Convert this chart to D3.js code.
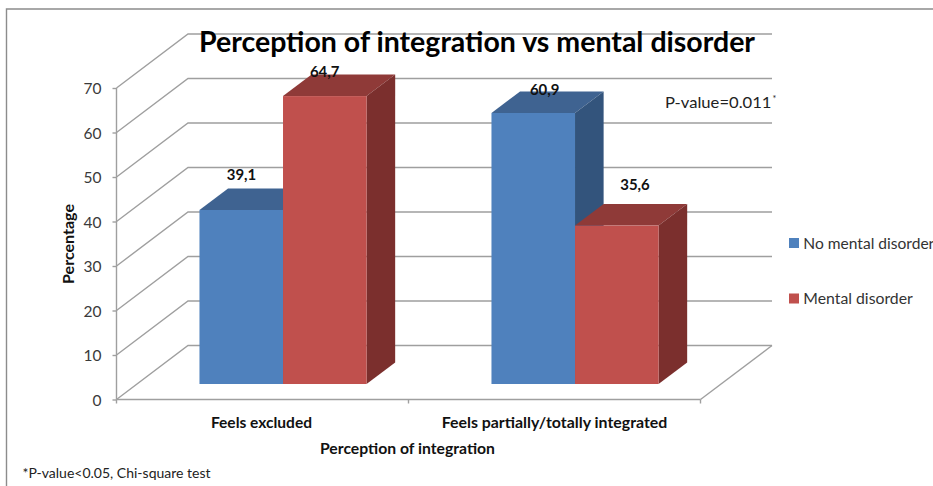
<!DOCTYPE html>
<html><head><meta charset="utf-8">
<script src="https://cdnjs.cloudflare.com/ajax/libs/d3/7.8.5/d3.min.js"></script>
<style>html,body{margin:0;padding:0;background:#fff;overflow:hidden}text{font-family:Lato,"Open Sans",sans-serif}</style>
</head><body><svg id="c" width="933" height="486"></svg>
<script>
const categories = ["Feels excluded", "Feels partially/totally integrated"];
const seriesNames = ["No mental disorder", "Mental disorder"];
const noDisorder = [39.1, 60.9];
const disorder = [64.7, 35.6];
const yTicks = [0, 10, 20, 30, 40, 50, 60, 70];
const title = "Perception of integration vs mental disorder";
const xTitle = "Perception of integration";
const yTitle = "Percentage";
const footnote = "*P-value<0.05, Chi-square test";
const pValue = "P-value=0.011";

const front = {[seriesNames[0]]: ["#4f81bd", "#3f6391", "#33547c"], [seriesNames[1]]: ["#c0504d", "#8f3a38", "#7b2f2d"]};
const fmt = d3.formatLocale({decimal: ",", thousands: ".", grouping: [3], currency: ["", ""]}).format(".1f");

const svg = d3.select("#c");
const x = d3.scaleBand().domain(categories).range([116.5, 700.5]);
const s = d3.scaleBand().domain(seriesNames).range([0, x.bandwidth()]).paddingInner(0).paddingOuter(0.7475);
const y = d3.scaleLinear().domain([0, 70]).range([399.5, 88]);
const depth = {x: 71.5, y: -54};
const P = (px, py, z) => [px + depth.x * z, py + depth.y * z];
const line = d3.line();
const GRID = "#9f9f9f";

const fit = (sel, w) => sel.attr("textLength", w).attr("lengthAdjust", "spacingAndGlyphs");

svg.append("path").attr("d", "M6.5,486V9H933").attr("fill", "none").attr("stroke", "#8c8c8c").attr("stroke-width", 1.4);

const grid = svg.append("g").attr("fill", "none").attr("stroke", GRID).attr("stroke-width", 1.4);
yTicks.forEach(t => {
  const a = [x.range()[0], y(t)];
  grid.append("path").attr("d", line([a, P(a[0], a[1], 1), P(x.range()[1], a[1], 1)]));
});
grid.append("path").attr("d", line([[x.range()[1], y(0)], P(x.range()[1], y(0), 1)]));

// axes
const yAxis = d3.axisLeft(y).tickValues(yTicks).tickSize(4).tickPadding(11);
const gy = svg.append("g").attr("transform", `translate(${x.range()[0]},0)`).call(yAxis);
gy.selectAll("path,line").attr("stroke", GRID).attr("stroke-width", 1.4);
gy.selectAll("text").attr("font-size", 15.5).attr("fill", "#3a3a3a").attr("dy", "0.38em").style("font-family", "Lato");
gy.select("path").attr("d", `M0,${y(70)}V${y(0)}`);

const edges = d3.scalePoint().domain(d3.range(categories.length + 1)).range(x.range());
const gx = svg.append("g").attr("stroke", GRID).attr("stroke-width", 1.4);
gx.append("line").attr("x1", x.range()[0]).attr("x2", x.range()[1]).attr("y1", y(0)).attr("y2", y(0));
edges.domain().forEach(i => gx.append("line").attr("x1", edges(i)).attr("x2", edges(i)).attr("y1", y(0)).attr("y2", y(0) + 4));

// bars
const zNear = 0.287, zFar = 0.687;
const series = [noDisorder, disorder];
categories.forEach(c => {
  seriesNames.forEach(n => {
    const si = seriesNames.indexOf(n), ci = categories.indexOf(c);
    const v = series[si][ci];
    const xa = x(c) + s(n), xb = xa + s.bandwidth();
    const a = P(xa, y(v), zNear), b = P(xb, y(v), zNear), d = P(xb, y(0), zNear);
    const a2 = P(xa, y(v), zFar), b2 = P(xb, y(v), zFar), d2 = P(xb, y(0), zFar);
    const col = front[n];
    const g = svg.append("g");
    g.append("path").attr("fill", col[1]).attr("d", line([a, a2, b2, b]) + "Z");
    g.append("path").attr("fill", col[2]).attr("d", line([b, b2, d2, d]) + "Z");
    g.append("rect").attr("x", a[0]).attr("y", a[1]).attr("width", b[0] - a[0]).attr("height", d[1] - a[1]).attr("fill", col[0]);
  });
});

// data labels
const labelPos = [[[241.5, 174], [324.7, 71]], [[544.7, 89], [635, 184]]];
categories.forEach((c, ci) => seriesNames.forEach((n, si) => {
  const p = labelPos[ci][si];
  fit(svg.append("text").attr("x", p[0]).attr("y", p[1] + 5.5).attr("text-anchor", "middle")
    .attr("font-size", 15).attr("font-weight", 700).attr("fill", "#111").text(fmt(series[si][ci])), 29.5);
}));

// category labels
const catCentre = [261.5, 554.5], catWidth = [101, 225.6];
categories.forEach((c, i) => fit(svg.append("text").attr("x", catCentre[i]).attr("y", 427.5)
  .attr("text-anchor", "middle").attr("font-size", 14.5).attr("font-weight", 700).attr("fill", "#111").text(c), catWidth[i]));

fit(svg.append("text").attr("x", 407.5).attr("y", 453.5).attr("text-anchor", "middle").attr("font-size", 14.5).attr("font-weight", 700).attr("fill", "#111").text(xTitle), 175);
fit(svg.append("text").attr("transform", "translate(73.5,244) rotate(-90)").attr("text-anchor", "middle").attr("font-size", 14.5).attr("font-weight", 700).attr("fill", "#111").text(yTitle), 80);
fit(svg.append("text").attr("x", 477).attr("y", 52).attr("text-anchor", "middle").attr("font-size", 29).attr("font-weight", 700).attr("fill", "#000").text(title), 556);
fit(svg.append("text").attr("x", 22.5).attr("y", 478).attr("font-size", 14).attr("fill", "#222").text(footnote), 188);
const pv = svg.append("text").attr("x", 665).attr("y", 107.5).attr("font-size", 16).attr("fill", "#222");
fit(pv.append("tspan").text(pValue), 106.5);
svg.append("text").attr("x", 772.5).attr("y", 102).attr("font-size", 9).attr("fill", "#222").text("*");

// legend
const legendY = d3.scalePoint().domain(seriesNames).range([243, 298.5]);
const legendW = [131, 109.5];
seriesNames.forEach((n, i) => {
  svg.append("rect").attr("x", 789).attr("y", legendY(n) - 5).attr("width", 10).attr("height", 10).attr("fill", front[n][0]);
  fit(svg.append("text").attr("x", 803.3).attr("y", legendY(n) + 5.5).attr("font-size", 15.5).attr("fill", "#333").text(n), legendW[i]);
});
</script></body></html>
